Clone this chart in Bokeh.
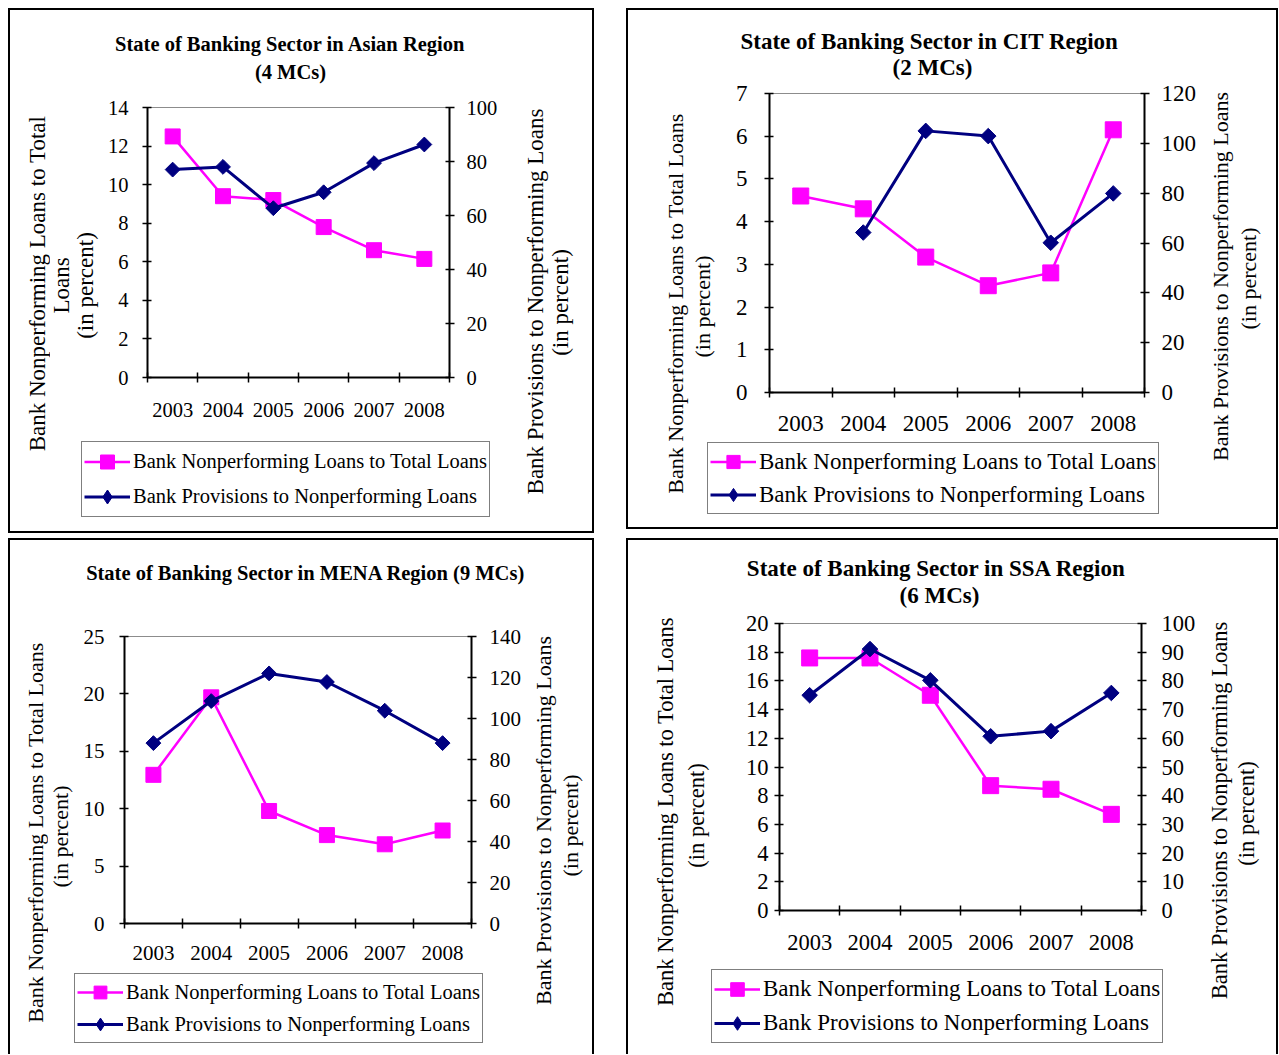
import math
from bokeh.plotting import figure
from bokeh.models import (Range1d, LinearAxis, FixedTicker, Legend, LegendItem,
                          Label, NumeralTickFormatter, Spacer)
from bokeh.layouts import row, column
from bokeh.embed import file_html
from bokeh.resources import INLINE

# ---------------- data ----------------
years = [2003, 2004, 2005, 2006, 2007, 2008]

asia_npl = [12.5, 9.4, 9.2, 7.8, 6.6, 6.15]
asia_prov = [77.0, 78.0, 62.7, 68.6, 79.4, 86.3]

cit_npl = [4.6, 4.3, 3.17, 2.5, 2.8, 6.15]
cit_prov = [float("nan"), 64.2, 105.0, 102.9, 60.1, 79.9]

mena_npl = [12.95, 19.7, 9.8, 7.7, 6.9, 8.1]
mena_prov = [88.0, 108.5, 122.0, 117.8, 103.8, 88.0]

ssa_npl = [17.6, 17.6, 15.0, 8.7, 8.45, 6.7]
ssa_prov = [75.0, 91.1, 80.2, 60.7, 62.5, 75.8]

asia_title = ["State of Banking Sector in Asian Region", "(4 MCs)"]
cit_title = ["State of Banking Sector in CIT  Region", "(2 MCs)"]
mena_title = ["State of Banking Sector in MENA  Region (9 MCs)"]
ssa_title = ["State of Banking Sector in SSA  Region", "(6 MCs)"]

asia_left_label = ["Bank Nonperforming Loans to Total", "Loans", "(in percent)"]
std_left_label = ["Bank Nonperforming Loans to Total Loans", "(in percent)"]
right_label = ["Bank Provisions to Nonperforming Loans", "(in percent)"]

npl_name = "Bank Nonperforming Loans to Total Loans"
prov_name = "Bank Provisions to Nonperforming Loans"

FONT = "Liberation Serif"
MAGENTA = "#FF00FF"
NAVY = "#000080"


def blank(w, h):
    f = figure(width=w, height=h, output_backend="svg", toolbar_location=None,
               title=None, x_axis_type=None, y_axis_type=None, min_border=0,
               x_range=Range1d(0, 1), y_range=Range1d(0, 1),
               background_fill_color="white", border_fill_color="white")
    f.outline_line_color = None
    f.grid.visible = False
    return f


def add_text(f, origin, txt, x, y, size, bold=False, angle=0.0):
    f.add_layout(Label(x=x - origin[0], y=y - origin[1], x_units="canvas", y_units="canvas",
                       text=txt, angle=angle, text_align="center", text_baseline="middle",
                       text_font=FONT, text_font_style="bold" if bold else "normal",
                       text_font_size=size, text_color="black"))


def style_axis(ax, fs, standoff):
    ax.axis_line_width = 2
    ax.axis_line_color = "black"
    ax.major_label_text_font = FONT
    ax.major_label_text_font_size = fs
    ax.major_label_text_color = "black"
    ax.major_label_standoff = standoff


def draw_series(p, c, prov_marker="square", prov_angle=math.pi / 4):
    l1 = p.line(years, c["npl"], line_color=MAGENTA, line_width=2.5)
    s1 = p.scatter(years, c["npl"], marker="square", size=c["sq"],
                   fill_color=MAGENTA, line_color=MAGENTA)
    l2 = p.line(years, c["prov"], y_range_name="right", line_color=NAVY, line_width=3)
    s2 = p.scatter(years, c["prov"], y_range_name="right", marker=prov_marker,
                   angle=prov_angle, size=c["dm"], fill_color=NAVY, line_color=NAVY)
    return l1, s1, l2, s2


def make_chart(c, w, h, ox, oy):
    fl, ft, fr, fb = c["frame"]
    p = figure(width=w, height=h, output_backend="svg", toolbar_location=None,
               title=None,
               x_range=Range1d(years[0] - 0.5, years[-1] + 0.5),
               y_range=Range1d(0, c["lticks"][-1]),
               min_border_left=fl - ox, min_border_top=ft - oy,
               min_border_right=ox + w - fr, min_border_bottom=oy + h - fb,
               background_fill_color="white", border_fill_color="white")
    p.outline_line_color = "#8c8c8c"
    p.outline_line_width = 1
    p.grid.visible = False
    fs = c["fs"]

    xa = p.xaxis[0]
    bounds = [y - 0.5 for y in years] + [years[-1] + 0.5]
    xa.ticker = FixedTicker(ticks=years, minor_ticks=bounds)
    xa.formatter = NumeralTickFormatter(format="0")
    xa.major_tick_line_color = None
    xa.major_tick_in = 0
    xa.major_tick_out = 5
    xa.minor_tick_in = 5
    xa.minor_tick_out = 5
    xa.minor_tick_line_color = "black"
    xa.minor_tick_line_width = 1.5
    style_axis(xa, fs, c["xstand"])

    ya = p.yaxis[0]
    ya.ticker = FixedTicker(ticks=c["lticks"])
    ya.major_tick_in = 4
    ya.major_tick_out = 5
    ya.minor_tick_line_color = None
    ya.major_tick_line_width = 1.5
    style_axis(ya, fs, c["lstand"])

    p.extra_y_ranges = {"right": Range1d(0, c["rticks"][-1])}
    ra = LinearAxis(y_range_name="right", ticker=FixedTicker(ticks=c["rticks"]))
    ra.major_tick_in = 4
    ra.major_tick_out = 5
    ra.minor_tick_line_color = None
    ra.major_tick_line_width = 1.5
    style_axis(ra, fs, c["rstand"])
    p.add_layout(ra, "right")

    draw_series(p, c)
    return p


def make_legend_fig(c, w, h, ox, oy):
    # the legend sits under the chart; its key glyphs come from the same series,
    # drawn here outside the (0..1) view so that only the legend shows them
    f = blank(w, h)
    f.extra_y_ranges = {"right": Range1d(0, 1)}
    k1, m1, k2, m2 = draw_series(f, c, prov_marker="diamond", prov_angle=0.0)
    lx0, ly0, lx1, ly1 = c["legend"]
    leg = Legend(items=[LegendItem(label=npl_name, renderers=[k1, m1]),
                        LegendItem(label=prov_name, renderers=[k2, m2])],
                 location=(lx0 - ox, oy + h - ly1))
    leg.label_text_font = FONT
    leg.label_text_font_size = c["lfs"]
    leg.label_text_color = "black"
    leg.glyph_width = 46
    leg.glyph_height = c["gh"]
    leg.label_height = c["gh"]
    leg.label_standoff = 3
    leg.padding = c["pad"]
    leg.spacing = c["spc"]
    leg.margin = 0
    leg.border_line_color = "black"
    leg.border_line_width = 1.5
    leg.background_fill_color = "white"
    leg.background_fill_alpha = 1
    f.add_layout(leg, "center")
    return f


def make_panel(c):
    x0, y0, x1, y1 = c["inner"]
    ty, la, lb, cx1, cy1 = c["grid"]
    tfig = blank(x1 - x0, ty - y0)
    lfa = blank(la - x0, y1 - ty)
    lfb = blank(lb - la, cy1 - ty)
    chart = make_chart(c, cx1 - lb, cy1 - ty, lb, ty)
    legf = make_legend_fig(c, cx1 - la, y1 - cy1, la, cy1)
    rfig = blank(x1 - cx1, y1 - ty)

    for txt, x, y in c["title"]:
        add_text(tfig, (x0, y0), txt, x, y, c["tfs"], bold=True)
    for txt, x, y in c["ltitle"]:
        if x < la:
            add_text(lfa, (x0, ty), txt, x, y, c["afs"], angle=math.pi / 2)
        else:
            add_text(lfb, (la, ty), txt, x, y, c["afs"], angle=math.pi / 2)
    for txt, x, y in c["rtitle"]:
        add_text(rfig, (cx1, ty), txt, x, y, c["afs"], angle=math.pi / 2)

    body = row(lfa, column(row(lfb, chart), legf), rfig)
    return column(tfig, body)


def bar(w, h):
    return Spacer(width=w, height=h, margin=0, styles={"background-color": "black"})


def boxed(inner, w_in, h_in, bottom=True):
    mid = row(bar(2, h_in), inner, bar(2, h_in))
    items = [bar(w_in + 4, 2), mid]
    if bottom:
        items.append(bar(w_in + 4, 2))
    return column(*items)


cfg_asia = dict(
    inner=(10, 10, 592, 531), grid=(92, 50, 100, 515, 435),
    frame=(147, 107, 449, 377),
    lticks=[0, 2, 4, 6, 8, 10, 12, 14], rticks=[0, 20, 40, 60, 80, 100],
    npl=asia_npl, prov=asia_prov,
    fs="20.5px", lfs="20.5px", tfs="20.5px", afs="23px",
    xstand=20, lstand=14, rstand=12, sq=15, dm=10.5, gh=35, pad=2, spc=0,
    legend=(81, 443, 494, 517),
    title=[(asia_title[0], 290, 43), (asia_title[1], 290, 71)],
    ltitle=[(asia_left_label[0], 37, 283), (asia_left_label[1], 61, 285),
            (asia_left_label[2], 85, 285)],
    rtitle=[(right_label[0], 535, 301), (right_label[1], 560, 302)],
)

cfg_cit = dict(
    inner=(628, 10, 1276, 527), grid=(80, 690, 725, 1203, 440),
    frame=(769, 93, 1144, 392),
    lticks=[0, 1, 2, 3, 4, 5, 6, 7], rticks=[0, 20, 40, 60, 80, 100, 120],
    npl=cit_npl, prov=cit_prov,
    fs="23px", lfs="23px", tfs="23px", afs="22px",
    xstand=18, lstand=17, rstand=12, sq=16, dm=11, gh=33, pad=2, spc=0,
    legend=(707, 444, 1171, 514),
    title=[(cit_title[0], 932, 41), (cit_title[1], 932, 67)],
    ltitle=[(std_left_label[0], 675, 303), (std_left_label[1], 702, 306)],
    rtitle=[(right_label[0], 1220, 276), (right_label[1], 1248, 278)],
)

cfg_mena = dict(
    inner=(10, 540, 592, 1054), grid=(600, 48, 75, 527, 972),
    frame=(124, 636, 471, 923),
    lticks=[0, 5, 10, 15, 20, 25], rticks=[0, 20, 40, 60, 80, 100, 120, 140],
    npl=mena_npl, prov=mena_prov,
    fs="21px", lfs="20.5px", tfs="20.5px", afs="22px",
    xstand=17, lstand=15, rstand=13, sq=15, dm=10.5, gh=32, pad=2, spc=0,
    legend=(74, 975, 492, 1043),
    title=[(mena_title[0], 308, 572)],
    ltitle=[(std_left_label[0], 35, 832), (std_left_label[1], 60, 836)],
    rtitle=[(right_label[0], 543, 820), (right_label[1], 570, 825)],
)

cfg_ssa = dict(
    inner=(628, 540, 1276, 1054), grid=(609, 681, 742, 1203, 968),
    frame=(779, 623, 1141, 910),
    lticks=[0, 2, 4, 6, 8, 10, 12, 14, 16, 18, 20],
    rticks=[0, 10, 20, 30, 40, 50, 60, 70, 80, 90, 100],
    npl=ssa_npl, prov=ssa_prov,
    fs="22.5px", lfs="23px", tfs="23px", afs="22.5px",
    xstand=19, lstand=6, rstand=15, sq=16, dm=11, gh=34, pad=2, spc=0,
    legend=(711, 972, 1184, 1043),
    title=[(ssa_title[0], 939, 568), (ssa_title[1], 939, 595)],
    ltitle=[(std_left_label[0], 665, 811), (std_left_label[1], 696, 815)],
    rtitle=[(right_label[0], 1219, 810), (right_label[1], 1246, 813)],
)

b1 = boxed(make_panel(cfg_asia), 582, 521)
b2 = boxed(make_panel(cfg_cit), 648, 517)
b3 = boxed(make_panel(cfg_mena), 582, 514, bottom=False)
b4 = boxed(make_panel(cfg_ssa), 648, 514, bottom=False)

layout = column(
    Spacer(width=1278, height=8),
    row(Spacer(width=8, height=525), b1, Spacer(width=32, height=525), b2),
    Spacer(width=1278, height=5),
    row(Spacer(width=8, height=516), b3, Spacer(width=32, height=516), b4),
)

open("out.html", "w").write(file_html(layout, INLINE))
